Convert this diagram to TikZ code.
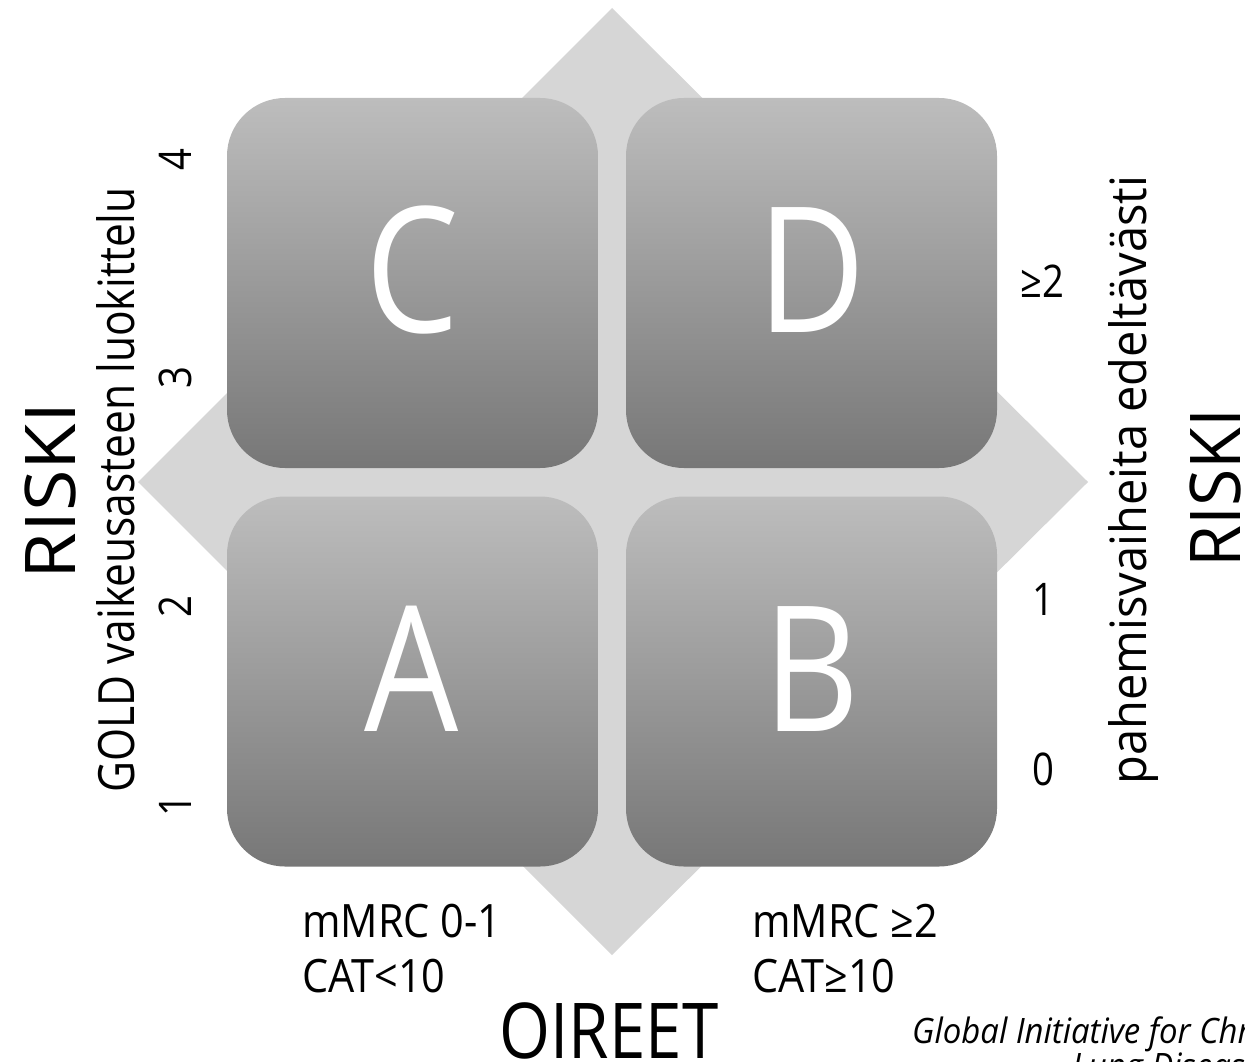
\documentclass[tikz,border=0pt]{standalone}
\usepackage{fontspec}
\setmainfont{Open Sans}[FakeStretch=0.85]
\newfontfamily\riskLfont{Open Sans}[FakeStretch=1.08]
\newfontfamily\riskRfont{Open Sans}[FakeStretch=0.97]
\newfontfamily\pahfont{Open Sans}[FakeStretch=0.94]
\newfontfamily\critfont{Open Sans}[FakeStretch=0.9]
\newfontfamily\srcfont{Open Sans}[FakeStretch=0.94]
\definecolor{diamondgray}{HTML}{D6D6D6}
\definecolor{boxtop}{HTML}{BDBDBD}
\definecolor{boxbot}{HTML}{777777}
\tikzset{
  quad/.style={rectangle, minimum width=371pt, minimum height=370pt,
    rounded corners=58pt, top color=boxtop, bottom color=boxbot,
    draw=none, inner sep=0pt},
  letter/.style={text=white, font=\fontsize{175}{175}\selectfont,
    inner sep=0pt, anchor=base},
  bigtitle/.style={inner sep=0pt, anchor=base, text depth=0pt},
  axislabel/.style={inner sep=0pt, anchor=base, font=\fontsize{50}{50}\selectfont},
  tick/.style={inner sep=0pt, anchor=base, font=\fontsize{45}{45}\selectfont},
  crit/.style={inner sep=0pt, anchor=base west, align=left,
    font=\critfont\fontsize{46}{55}\selectfont},
  source/.style={inner sep=0pt, anchor=base west,
    font=\srcfont\itshape\fontsize{35}{35}\selectfont}
}
\begin{document}
\begin{tikzpicture}[x=1pt, y=-1pt]
\useasboundingbox (0,0) rectangle (1245,1062);
\clip (0,0) rectangle (1245,1062);
% background diamond
\fill[diamondgray] (612,8) -- (1088,482) -- (612,955) -- (138,482) -- cycle;
% quadrant boxes
\node[quad] (boxC) at (412.5,283) {};
\node[quad] (boxD) at (811.5,283) {};
\node[quad] (boxA) at (412.5,681.5) {};
\node[quad] (boxB) at (811.5,681.5) {};
\node[letter] (letC) at (412,332) {C};
\node[letter] (letD) at (812,332) {D};
\node[letter] (letA) at (412,731) {A};
\node[letter] (letB) at (812,731) {B};
% left axis
\node[bigtitle, rotate=90, font=\riskLfont\fontsize{70}{70}\selectfont] (riskL) at (75,491) {RISKI};
\node[axislabel, rotate=90] (gold) at (134,490) {GOLD vaikeusasteen luokittelu};
\node[tick, rotate=90] (g4) at (191,160) {4};
\node[tick, rotate=90] (g3) at (191,378) {3};
\node[tick, rotate=90] (g2) at (191,607) {2};
\node[tick, rotate=90] (g1) at (191,806) {1};
% right axis
\node[tick, anchor=base west] (e2) at (1020,297) {≥2};
\node[tick] (e1) at (1043,615) {1};
\node[tick] (e0) at (1043,785) {0};
\node[axislabel, rotate=90, font=\pahfont\fontsize{50}{50}\selectfont] (pah) at (1146,480) {pahemisvaiheita edeltävästi};
\node[bigtitle, rotate=90, font=\riskRfont\fontsize{70}{70}\selectfont] (riskR) at (1240,488) {RISKI};
% bottom axis
\node[crit] (critL) at (302,992) {mMRC 0-1\\CAT<10};
\node[crit] (critR) at (752,992) {mMRC ≥2\\CAT≥10};
\node[inner sep=0pt, anchor=base, font=\fontsize{77}{77}\selectfont] (oireet) at (609,1058) {OIREET};
% source
\node[source] (src1) at (912,1043) {Global Initiative for Chronic Obstructive};
\node[source] (src2) at (1072,1078) {Lung Disease (GOLD)};
\end{tikzpicture}
\end{document}
